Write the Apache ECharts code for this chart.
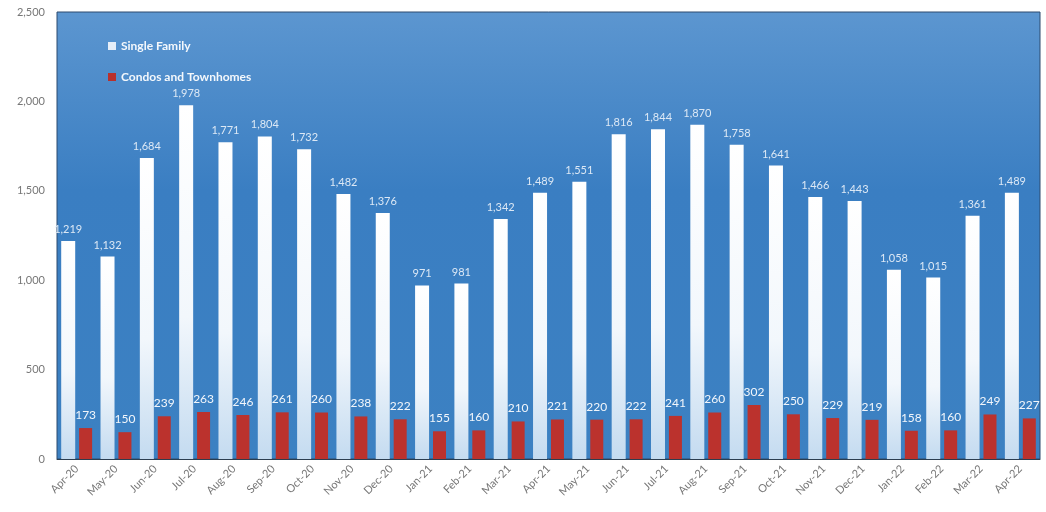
<!DOCTYPE html>
<html><head><meta charset="utf-8">
<script src="https://cdn.jsdelivr.net/npm/echarts@6/dist/echarts.min.js"></script>
<style>html,body{margin:0;padding:0;background:#fff}#c{width:1046px;height:512px}</style>
</head><body><div id="c"></div>
<script>
const categories = ['Apr-20','May-20','Jun-20','Jul-20','Aug-20','Sep-20','Oct-20','Nov-20','Dec-20','Jan-21','Feb-21','Mar-21','Apr-21','May-21','Jun-21','Jul-21','Aug-21','Sep-21','Oct-21','Nov-21','Dec-21','Jan-22','Feb-22','Mar-22','Apr-22'];
const singleFamily = [1219,1132,1684,1978,1771,1804,1732,1482,1376,971,981,1342,1489,1551,1816,1844,1870,1758,1641,1466,1443,1058,1015,1361,1489];
const condos = [173,150,239,263,246,261,260,238,222,155,160,210,221,220,222,241,260,302,250,229,219,158,160,249,227];
const yTicks = {min:0, max:2500, interval:500};

const fmt = v => String(v).replace(/\B(?=(\d{3})+(?!\d))/g, ',');
const chart = echarts.init(document.getElementById('c'));
chart.setOption({
  animation:false,
  textStyle:{fontFamily:'Lato'},
  grid:{left:57,right:6,top:12,bottom:53,show:true,borderColor:'#2c4a6e',borderWidth:1,
    backgroundColor:new echarts.graphic.LinearGradient(0,0,0,1,[
      {offset:0,color:'#5c96d0'},{offset:0.4,color:'#3a7ec2'},{offset:1,color:'#3c81c2'}])},
  legend:{orient:'vertical',left:103,top:35,itemGap:19,itemWidth:8,itemHeight:8,icon:'rect',
    textStyle:{color:'#f4f8fc',fontWeight:'bold',fontSize:12,fontFamily:'Lato'},
    data:[{name:'Single Family',itemStyle:{color:'#e6eef8'}},{name:'Condos and Townhomes',itemStyle:{color:'#b8302c'}}]},
  xAxis:{type:'category',data:categories,
    axisLine:{lineStyle:{color:'#2c3e50'}},axisTick:{show:false},
    axisLabel:{rotate:45,color:'#777',fontSize:11,margin:8,interval:0}},
  yAxis:{type:'value',min:yTicks.min,max:yTicks.max,interval:yTicks.interval,
    splitLine:{show:false},axisLine:{show:false},axisTick:{show:false},
    axisLabel:{color:'#777',fontSize:11,margin:12,formatter:fmt}},
  series:[
    {name:'Single Family',type:'bar',data:singleFamily,barWidth:14,barGap:'28%',
      itemStyle:{color:new echarts.graphic.LinearGradient(0,0,0,1,[{offset:0,color:'#ffffff'},{offset:0.6,color:'#f2f7fc'},{offset:1,color:'#c4dbf0'}])},
      label:{show:true,position:'top',distance:6,color:'#dce8f5',fontSize:11,formatter:p=>fmt(p.value)}},
    {name:'Condos and Townhomes',type:'bar',data:condos,barWidth:13,
      itemStyle:{color:'#bb322d'},
      label:{show:true,position:'top',distance:7,color:'#f2f6fb',fontSize:12,formatter:p=>fmt(p.value)}}
  ]
});
</script></body></html>
